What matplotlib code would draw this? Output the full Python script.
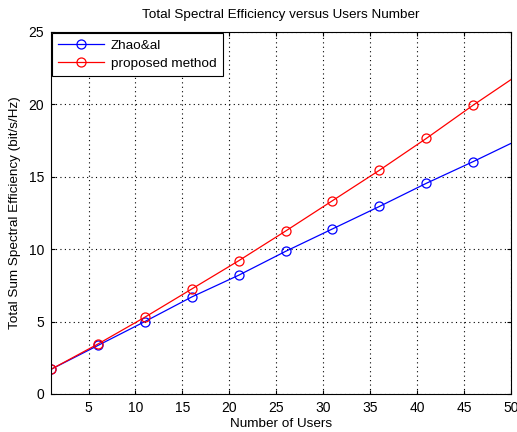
import matplotlib
matplotlib.use("Agg")
import matplotlib.pyplot as plt

plt.rcParams['font.family'] = ['Liberation Sans', 'DejaVu Sans']

users = [1, 6, 11, 16, 21, 26, 31, 36, 41, 46, 50]
zhao = [1.7, 3.35, 5.0, 6.7, 8.2, 9.85, 11.4, 12.95, 14.55, 16.05, 17.3]
proposed = [1.7, 3.45, 5.3, 7.25, 9.2, 11.25, 13.35, 15.45, 17.65, 19.95, 21.7]

fig = plt.figure(figsize=(5.17, 4.32), dpi=100)
ax = fig.add_axes([0.0986, 0.088, 0.8894, 0.838])

ax.plot(users, zhao, color='blue', marker='o', markersize=6.5, markerfacecolor='none',
        markeredgewidth=0.9, linewidth=0.9, markevery=list(range(10)), label='Zhao&al')
ax.plot(users, proposed, color='red', marker='o', markersize=6.5, markerfacecolor='none',
        markeredgewidth=0.9, linewidth=0.9, markevery=list(range(10)), label='proposed method')

ax.set_xlim(1, 50)
ax.set_ylim(0, 25)
ax.set_xticks(range(5, 51, 5))
ax.set_yticks(range(0, 26, 5))
ax.tick_params(direction='in', labelsize=10, length=3, top=True, right=True, pad=5)
ax.grid(True, color='black', linestyle=(0, (1, 3)), linewidth=0.8)

ax.set_xlabel('Number of Users', fontsize=9.7, labelpad=2)
ax.set_ylabel('Total Sum Spectral Efficiency (bit/s/Hz)', fontsize=9.7, labelpad=5)
ax.set_title('Total Spectral Efficiency versus Users Number', fontsize=9.7, pad=10)

leg = ax.legend(loc='upper left', fontsize=9.7, fancybox=False, framealpha=1,
                edgecolor='black', borderaxespad=0.1, handlelength=3.4,
                handletextpad=0.5, borderpad=0.45, labelspacing=0.4)
leg.get_frame().set_linewidth(0.8)

fig.savefig('out.png', dpi=100)
